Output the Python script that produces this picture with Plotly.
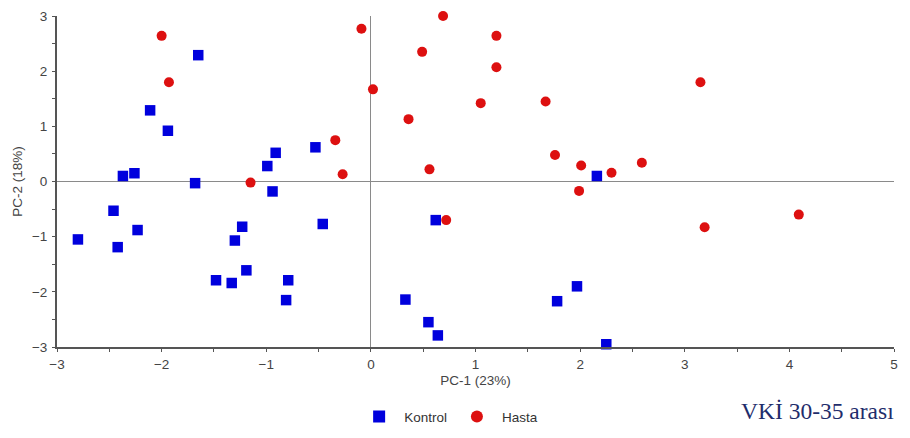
import plotly.graph_objects as go

# PCA scores: Kontrol group (PC-1, PC-2)
kontrol_pc1 = [-1.65, -2.11, -1.94, -2.37, -2.26, -1.68, -0.99, -0.91, -0.94, -0.53,
               -2.46, -2.80, -2.23, -2.42, -1.23, -1.30, -1.19, -1.48, -1.33, -0.79,
               -0.81, -0.46, 2.16, 0.62, 1.97, 1.78, 0.33, 0.55, 0.64, 2.25]
kontrol_pc2 = [2.29, 1.29, 0.92, 0.10, 0.15, -0.03, 0.28, 0.52, -0.18, 0.62,
               -0.53, -1.05, -0.88, -1.19, -0.82, -1.07, -1.61, -1.79, -1.84, -1.79,
               -2.15, -0.77, 0.10, -0.70, -1.90, -2.17, -2.14, -2.55, -2.79, -2.95]

# PCA scores: Hasta group (PC-1, PC-2)
hasta_pc1 = [-2.00, -1.93, -1.15, -0.34, -0.27, -0.09, 0.02, 0.69, 1.20, 0.49,
             1.20, 1.05, 1.67, 3.15, 0.36, 1.76, 2.01, 0.56, 2.30, 2.59,
             1.99, 0.72, 3.19, 4.09]
hasta_pc2 = [2.64, 1.80, -0.02, 0.75, 0.13, 2.77, 1.67, 3.00, 2.64, 2.35,
             2.07, 1.42, 1.45, 1.80, 1.13, 0.48, 0.29, 0.22, 0.16, 0.34,
             -0.17, -0.70, -0.83, -0.60]

x_ticks = [-3, -2, -1, 0, 1, 2, 3, 4, 5]
y_ticks = [-3, -2, -1, 0, 1, 2, 3]

SANS = "Liberation Sans, Arial"
TEXT_GREY = "#444444"

fig = go.Figure()
fig.add_trace(go.Scatter(
    x=kontrol_pc1, y=kontrol_pc2, mode="markers", name="Kontrol",
    marker=dict(symbol="square", size=10.5, color="#0000dd"),
    cliponaxis=False,
))
fig.add_trace(go.Scatter(
    x=hasta_pc1, y=hasta_pc2, mode="markers", name="Hasta",
    marker=dict(symbol="circle", size=10, color="#dd1010"),
    cliponaxis=False,
))

axis_common = dict(
    showgrid=False,
    zeroline=True, zerolinecolor="#8a8a8a", zerolinewidth=1,
    showline=True, linecolor="#555555", linewidth=2,
    ticks="outside", ticklen=3, tickcolor="#555555", tickwidth=1,
    minor=dict(ticks="outside", ticklen=3, tickcolor="#555555", dtick=0.5),
    tickfont=dict(family=SANS, size=13.5, color=TEXT_GREY),
)

fig.update_layout(
    width=910, height=438,
    margin=dict(l=57, r=16, t=16, b=91, autoexpand=False),
    paper_bgcolor="white", plot_bgcolor="white",
    xaxis=dict(
        range=[-3, 5], tickvals=x_ticks, ticklabelstandoff=1,
        title=dict(text="PC-1 (23%)", standoff=4,
                   font=dict(family=SANS, size=13.5, color=TEXT_GREY)),
        **axis_common,
    ),
    yaxis=dict(
        range=[-3, 3], tickvals=y_ticks, ticklabelstandoff=2,
        title=dict(text="PC-2 (18%)", standoff=6,
                   font=dict(family=SANS, size=13.5, color=TEXT_GREY)),
        **axis_common,
    ),
    legend=dict(
        orientation="h", x=0.355, y=-0.211, xanchor="left", yanchor="middle",
        font=dict(family=SANS, size=13.5, color="#333333"),
        itemwidth=40, itemsizing="constant",
    ),
    annotations=[dict(
        text="VKİ 30-35 arası", xref="paper", yref="paper",
        x=1.002, y=-0.193, xanchor="right", yanchor="middle", showarrow=False,
        font=dict(family="Liberation Serif, Times New Roman", size=23.5, color="#1f2d6b"),
    )],
)

fig.write_html("out.html")
